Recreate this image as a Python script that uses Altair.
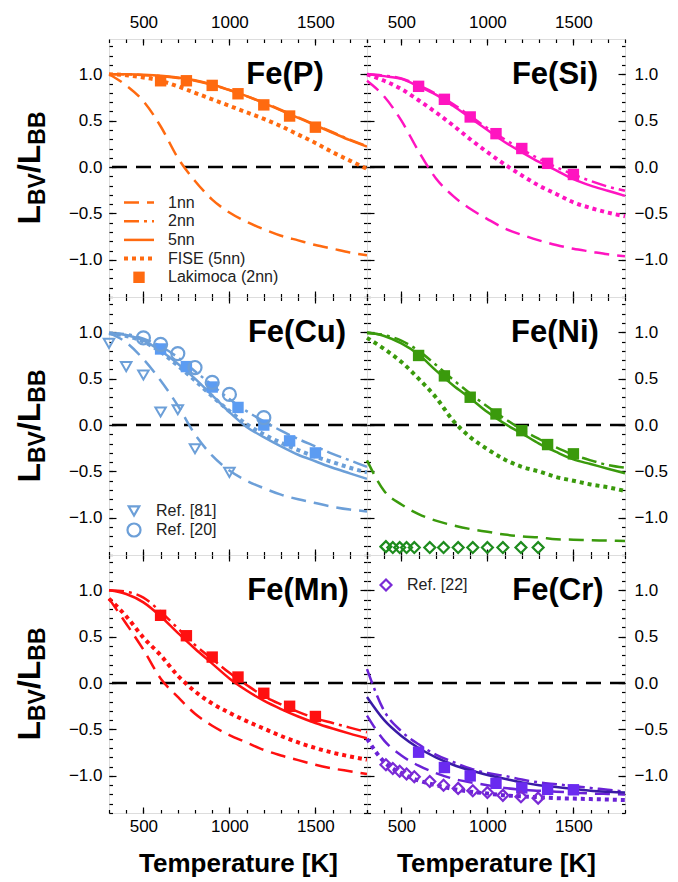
import altair as alt
import pandas as pd

FONT = "Liberation Sans"

# ---------------- data ----------------
T = [300, 400, 500, 600, 700, 800, 900, 1000, 1100, 1200, 1300, 1400, 1500, 1600, 1700, 1800]
T_LAK = [600, 750, 900, 1050, 1200, 1350, 1500]
T_REF81 = [300, 400, 500, 600, 700, 800, 1000]
T_REF20 = [500, 600, 700, 800, 900, 1000, 1200]
T_REF22 = [410, 450, 490, 530, 575, 665, 745, 830, 915, 1000, 1090, 1195, 1295]

# Fe(P)
P_1nn = [1.00, 0.88, 0.71, 0.44, 0.10, -0.15, -0.35, -0.49, -0.59, -0.67, -0.74, -0.79, -0.84, -0.88, -0.92, -0.95]
P_2nn = [1.00, 1.00, 0.99, 0.98, 0.96, 0.93, 0.885, 0.83, 0.765, 0.695, 0.615, 0.535, 0.455, 0.375, 0.295, 0.225]
P_5nn = [1.00, 1.00, 0.995, 0.985, 0.965, 0.935, 0.89, 0.83, 0.765, 0.69, 0.61, 0.53, 0.45, 0.37, 0.29, 0.22]
P_FISE = [1.00, 0.99, 0.965, 0.93, 0.87, 0.80, 0.73, 0.66, 0.59, 0.52, 0.44, 0.35, 0.26, 0.16, 0.07, -0.02]
P_LAK = [0.93, 0.93, 0.88, 0.79, 0.67, 0.55, 0.43]

# Fe(Si)
S_1nn = [0.93, 0.76, 0.50, 0.17, -0.12, -0.31, -0.45, -0.56, -0.66, -0.73, -0.79, -0.84, -0.88, -0.91, -0.94, -0.96]
S_2nn = [1.00, 0.985, 0.955, 0.88, 0.79, 0.68, 0.55, 0.42, 0.30, 0.19, 0.09, 0.00, -0.08, -0.15, -0.21, -0.255]
S_5nn = [1.00, 0.98, 0.95, 0.87, 0.78, 0.66, 0.53, 0.40, 0.27, 0.16, 0.055, -0.035, -0.13, -0.20, -0.255, -0.31]
S_FISE = [1.00, 0.93, 0.84, 0.72, 0.59, 0.45, 0.30, 0.16, 0.03, -0.09, -0.20, -0.29, -0.38, -0.44, -0.49, -0.53]
S_LAK = [0.87, 0.73, 0.54, 0.36, 0.20, 0.04, -0.08]

# Fe(Cu)
C_1nn = [0.99, 0.89, 0.71, 0.48, 0.21, -0.10, -0.33, -0.49, -0.60, -0.68, -0.75, -0.80, -0.84, -0.88, -0.91, -0.93]
C_2nn = [0.99, 0.98, 0.93, 0.85, 0.73, 0.58, 0.43, 0.28, 0.15, 0.04, -0.06, -0.15, -0.23, -0.31, -0.38, -0.45]
C_5nn = [0.99, 0.97, 0.91, 0.80, 0.66, 0.50, 0.32, 0.14, -0.02, -0.13, -0.23, -0.32, -0.39, -0.46, -0.52, -0.58]
C_FISE = [0.99, 0.96, 0.90, 0.79, 0.64, 0.48, 0.31, 0.15, 0.01, -0.10, -0.19, -0.27, -0.34, -0.40, -0.46, -0.51]
C_LAK = [0.82, 0.63, 0.41, 0.19, 0.00, -0.17, -0.30]
C_REF81 = [0.88, 0.63, 0.54, 0.14, 0.165, -0.255, -0.51]
C_REF20 = [0.94, 0.87, 0.77, 0.62, 0.46, 0.33, 0.08]

# Fe(Ni)
N_1nn = [-0.38, -0.71, -0.855, -0.96, -1.03, -1.08, -1.12, -1.15, -1.18, -1.20, -1.21, -1.23, -1.235, -1.24, -1.245, -1.25]
N_2nn = [0.99, 0.97, 0.91, 0.80, 0.65, 0.49, 0.34, 0.20, 0.07, -0.05, -0.15, -0.24, -0.32, -0.38, -0.43, -0.46]
N_5nn = [1.00, 0.96, 0.88, 0.76, 0.59, 0.43, 0.29, 0.14, 0.015, -0.09, -0.20, -0.29, -0.37, -0.42, -0.47, -0.52]
N_FISE = [0.94, 0.82, 0.68, 0.50, 0.30, 0.05, -0.13, -0.26, -0.37, -0.45, -0.50, -0.56, -0.60, -0.64, -0.67, -0.71]
N_LAK = [0.75, 0.53, 0.30, 0.12, -0.06, -0.21, -0.31]
N_REF22 = [-1.31, -1.32, -1.32, -1.32, -1.32, -1.32, -1.32, -1.32, -1.32, -1.32, -1.32, -1.32, -1.32]

# Fe(Mn)
M_1nn = [0.91, 0.64, 0.36, 0.05, -0.15, -0.33, -0.46, -0.56, -0.64, -0.72, -0.78, -0.83, -0.88, -0.92, -0.95, -0.98]
M_2nn = [1.00, 0.985, 0.92, 0.77, 0.59, 0.41, 0.26, 0.11, -0.02, -0.14, -0.23, -0.31, -0.38, -0.43, -0.48, -0.53]
M_5nn = [1.00, 0.96, 0.87, 0.72, 0.54, 0.37, 0.21, 0.05, -0.08, -0.19, -0.28, -0.36, -0.43, -0.49, -0.545, -0.595]
M_FISE = [0.91, 0.72, 0.49, 0.30, 0.08, -0.09, -0.22, -0.32, -0.41, -0.49, -0.57, -0.64, -0.70, -0.75, -0.79, -0.825]
M_LAK = [0.73, 0.51, 0.28, 0.065, -0.11, -0.25, -0.36]

# Fe(Cr)
R_1nn = [-0.35, -0.62, -0.78, -0.89, -0.97, -1.03, -1.07, -1.10, -1.13, -1.15, -1.16, -1.17, -1.18, -1.19, -1.195, -1.20]
R_2nn = [0.15, -0.30, -0.52, -0.66, -0.77, -0.85, -0.92, -0.97, -1.00, -1.04, -1.07, -1.09, -1.11, -1.13, -1.15, -1.17]
R_5nn = [-0.15, -0.40, -0.57, -0.70, -0.80, -0.88, -0.94, -0.99, -1.03, -1.07, -1.10, -1.12, -1.14, -1.16, -1.17, -1.18]
R_FISE = [-0.60, -0.85, -0.97, -1.05, -1.10, -1.14, -1.17, -1.19, -1.21, -1.22, -1.23, -1.24, -1.245, -1.25, -1.255, -1.26]
R_LAK = [-0.745, -0.91, -1.00, -1.08, -1.13, -1.145, -1.15]
R_REF22 = [-0.88, -0.92, -0.95, -0.98, -1.01, -1.06, -1.10, -1.135, -1.16, -1.18, -1.21, -1.225, -1.24]

X_MAJOR = [500, 1000, 1500]
X_MINOR = [300, 400, 500, 600, 700, 800, 900, 1000, 1100, 1200, 1300, 1400, 1500, 1600, 1700, 1800]
Y_MAJOR = [-1.0, -0.5, 0.0, 0.5, 1.0]
Y_MINOR = [-1.4, -1.3, -1.2, -1.1, -1.0, -0.9, -0.8, -0.7, -0.6, -0.5, -0.4, -0.3, -0.2, -0.1, 0.0,
           0.1, 0.2, 0.3, 0.4, 0.5, 0.6, 0.7, 0.8, 0.9, 1.0, 1.1, 1.2, 1.3]
LEGEND_LABELS = ["1nn", "2nn", "5nn", "FISE (5nn)", "Lakimoca (2nn)"]

# ---------------- styling / layout ----------------
W = 258
H = 258
XS = alt.Scale(domain=[300, 1800], nice=False, zero=False)
YS = alt.Scale(domain=[-1.4, 1.38], nice=False, zero=False)

STYLE = {
    "1nn": dict(strokeDash=[15, 8], strokeWidth=2.5),
    "2nn": dict(strokeDash=[15, 5, 3, 5], strokeWidth=2.5),
    "5nn": dict(strokeWidth=2.5),
    "FISE": dict(strokeDash=[4, 4], strokeWidth=4),
}

PANELS = [
    dict(name="Fe(P)", color="#FF6A10", lak_color="#FF6A10",
         curves={"1nn": P_1nn, "2nn": P_2nn, "5nn": P_5nn, "FISE": P_FISE}, lak=P_LAK, label_x=176),
    dict(name="Fe(Si)", color="#FF14C0", lak_color="#FF14C0",
         curves={"1nn": S_1nn, "2nn": S_2nn, "5nn": S_5nn, "FISE": S_FISE}, lak=S_LAK, label_x=188),
    dict(name="Fe(Cu)", color="#6C9FD8", lak_color="#5C9CF2",
         curves={"1nn": C_1nn, "2nn": C_2nn, "5nn": C_5nn, "FISE": C_FISE}, lak=C_LAK, label_x=188),
    dict(name="Fe(Ni)", color="#3A9A0C", lak_color="#3A9A0C",
         curves={"1nn": N_1nn, "2nn": N_2nn, "5nn": N_5nn, "FISE": N_FISE}, lak=N_LAK, label_x=188),
    dict(name="Fe(Mn)", color="#FF1010", lak_color="#FF1010",
         curves={"1nn": M_1nn, "2nn": M_2nn, "5nn": M_5nn, "FISE": M_FISE}, lak=M_LAK, label_x=189),
    dict(name="Fe(Cr)", color="#6A22D6", lak_color="#6A2AF0",
         curves={"1nn": R_1nn, "2nn": R_2nn, "5nn": R_5nn, "FISE": R_FISE}, lak=R_LAK, label_x=191,
         solid_color="#3A1AA6"),
]

ONE = pd.DataFrame({"a": [0]})
AXDF = pd.DataFrame({"T": [300, 1800], "v": [-1.4, 1.38]})


def make_axis(orient, values, size, labels=False, pad=0, fmt=None, title=None):
    kw = dict(orient=orient, values=values, tickSize=size, offset=-size, domain=False,
              grid=False, ticks=True, tickColor="black", tickWidth=1.2, labels=labels,
              title=title)
    if labels:
        kw.update(labelFontSize=17, labelFont=FONT, labelColor="black", labelPadding=pad,
                  labelFlush=False)
        if fmt:
            kw["format"] = fmt
    if title:
        kw.update(titleFontSize=26, titleFont=FONT, titleFontWeight="bold",
                  titleColor="black", titlePadding=16)
    return alt.Axis(**kw)


def carrier(xaxis, yaxis):
    return alt.Chart(AXDF).mark_point(opacity=0).encode(
        x=alt.X("T:Q", scale=XS, axis=xaxis),
        y=alt.Y("v:Q", scale=YS, axis=yaxis),
    )


def panel(p, row, col):
    layers = []
    top_lab = row == 0
    bot_lab = row == 2
    left_lab = col == 0
    right_lab = col == 1
    layers.append(carrier(
        make_axis("bottom", X_MAJOR, 6, labels=bot_lab, pad=5, fmt="d",
                  title="Temperature [K]" if bot_lab else None),
        make_axis("left", Y_MAJOR, 7, labels=left_lab, pad=7, fmt=".1f")))
    layers.append(carrier(
        make_axis("top", X_MAJOR, 6, labels=top_lab, pad=8, fmt="d"),
        make_axis("right", Y_MAJOR, 7, labels=right_lab, pad=9, fmt=".1f")))
    layers.append(carrier(make_axis("bottom", X_MINOR, 3.5), make_axis("left", Y_MINOR, 3.5)))
    layers.append(carrier(make_axis("top", X_MINOR, 3.5), make_axis("right", Y_MINOR, 3.5)))

    # zero reference line
    layers.append(alt.Chart(pd.DataFrame({"v": [0.0]})).mark_rule(
        color="black", strokeDash=[15, 9], strokeWidth=2.5).encode(
        y=alt.Y("v:Q", scale=YS, axis=None)))

    enc = dict(x=alt.X("T:Q", scale=XS, axis=None), y=alt.Y("v:Q", scale=YS, axis=None))
    for key in ["FISE", "1nn", "2nn", "5nn"]:
        df = pd.DataFrame({"T": T, "v": p["curves"][key]})
        color = p.get("solid_color", p["color"]) if key == "5nn" else p["color"]
        layers.append(alt.Chart(df).mark_line(color=color, interpolate="monotone",
                                              **STYLE[key]).encode(**enc))

    # Lakimoca squares
    layers.append(alt.Chart(pd.DataFrame({"T": T_LAK, "v": p["lak"]})).mark_square(
        size=130, color=p["lak_color"], opacity=1).encode(**enc))

    name = p["name"]
    if name == "Fe(Cu)":
        layers.append(alt.Chart(pd.DataFrame({"T": T_REF81, "v": C_REF81})).mark_point(
            shape="triangle-down", size=110, filled=False, strokeWidth=2,
            color=p["color"], opacity=1).encode(**enc))
        layers.append(alt.Chart(pd.DataFrame({"T": T_REF20, "v": C_REF20})).mark_point(
            shape="circle", size=170, filled=False, strokeWidth=2.2,
            color=p["color"], opacity=1).encode(**enc))
        for i, (shape, lab) in enumerate([("triangle-down", "Ref. [81]"), ("circle", "Ref. [20]")]):
            yy = 214 + 19 * i
            layers.append(alt.Chart(ONE).mark_point(
                shape=shape, size=110 if i == 0 else 170, filled=False, strokeWidth=2.2,
                color=p["color"], opacity=1).encode(x=alt.value(25), y=alt.value(yy)))
            layers.append(alt.Chart(ONE).mark_text(
                text=lab, align="left", baseline="middle", fontSize=16, font=FONT,
                color="#222222").encode(x=alt.value(47), y=alt.value(yy)))
    if name in ("Fe(Ni)", "Fe(Cr)"):
        vals = N_REF22 if name == "Fe(Ni)" else R_REF22
        dcol = "#1E8C1E" if name == "Fe(Ni)" else "#7A2AD6"
        layers.append(alt.Chart(pd.DataFrame({"T": T_REF22, "v": vals})).mark_point(
            shape="diamond", size=120, filled=False, strokeWidth=2.2,
            color=dcol, opacity=1).encode(**enc))
        if name == "Fe(Cr)":
            layers.append(alt.Chart(ONE).mark_point(
                shape="diamond", size=120, filled=False, strokeWidth=2.2,
                color=dcol, opacity=1).encode(x=alt.value(19), y=alt.value(30)))
            layers.append(alt.Chart(ONE).mark_text(
                text="Ref. [22]", align="left", baseline="middle", fontSize=16, font=FONT,
                color="#222222").encode(x=alt.value(40), y=alt.value(30)))

    if name == "Fe(P)":
        keys = ["1nn", "2nn", "5nn", "FISE"]
        for i, lab in enumerate(LEGEND_LABELS):
            yy = 163.5 + 18.7 * i
            if i < 4:
                layers.append(alt.Chart(ONE).mark_rule(color=p["color"], **STYLE[keys[i]]).encode(
                    x=alt.value(15), x2=alt.value(45), y=alt.value(yy)))
            else:
                layers.append(alt.Chart(ONE).mark_square(size=130, color=p["color"], opacity=1).encode(
                    x=alt.value(30), y=alt.value(yy)))
            layers.append(alt.Chart(ONE).mark_text(
                text=lab, align="left", baseline="middle", fontSize=16, font=FONT,
                color="#222222").encode(x=alt.value(59), y=alt.value(yy)))

    # panel label
    layers.append(alt.Chart(ONE).mark_text(
        text=name, align="center", baseline="alphabetic", fontSize=31, fontWeight="bold",
        font=FONT, color="black").encode(x=alt.value(p["label_x"]), y=alt.value(45)))

    # y title with subscripts (left column only)
    if col == 0:
        pieces = [("L", 32, 0.611, 0), ("BV", 23, 1.389, 5), ("/", 32, 0.278, 0),
                  ("L", 32, 0.611, 0), ("BB", 23, 1.444, 5)]
        total = sum(fs * w for _, fs, w, _ in pieces)
        ypos = H / 2 + total / 2
        for txt, fs, w, sh in pieces:
            layers.append(alt.Chart(ONE).mark_text(
                text=txt, angle=270, align="left", baseline="alphabetic", fontSize=fs,
                fontWeight="bold", font=FONT, color="black").encode(
                x=alt.value(-69.5 + sh), y=alt.value(ypos)))
            ypos -= fs * w

    return alt.layer(*layers).resolve_axis(x="independent", y="independent").properties(
        width=W, height=H)


charts = []
for idx, p in enumerate(PANELS):
    charts.append(panel(p, idx // 2, idx % 2))

chart = alt.concat(*charts, columns=2, spacing=0, bounds="flush").properties(
    padding={"left": 4, "top": 4, "right": 0, "bottom": 0}
).configure_view(stroke="black", strokeWidth=1.5).configure(font=FONT)

chart.save("out.html", embed_options={"renderer": "svg", "actions": False})
